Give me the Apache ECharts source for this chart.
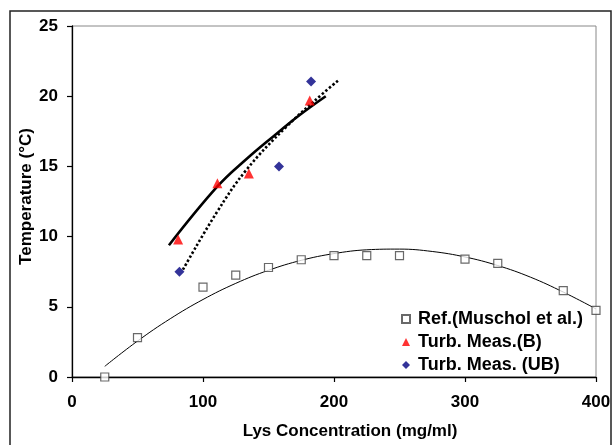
<!DOCTYPE html>
<html>
<head>
<meta charset="utf-8">
<script src="https://cdn.jsdelivr.net/npm/echarts@6/dist/echarts.min.js"></script>
<style>html,body{margin:0;padding:0;background:#fff;}#c{width:615px;height:445px;}</style>
</head>
<body>
<div id="c"></div>
<script>
// Reference data (Muschol et al.)
var refX = [25, 50, 100, 125, 150, 175, 200, 225, 250, 300, 325, 375, 400];
var refY = [0, 2.8, 6.4, 7.25, 7.8, 8.35, 8.65, 8.65, 8.65, 8.4, 8.1, 6.15, 4.75];
// Turbidity measurements (B)
var bX = [81, 111, 135, 181.5];
var bY = [9.8, 13.8, 14.5, 19.7];
// Turbidity measurements (UB)
var ubX = [82, 158, 182.5];
var ubY = [7.5, 15.0, 21.05];
// Trend curves
var refFitX = [25, 50, 75, 100, 125, 150, 175, 200, 225, 250, 275, 300, 325, 350, 375, 400];
var refFitY = [0.76, 2.56, 4.15, 5.52, 6.67, 7.6, 8.31, 8.79, 9.06, 9.11, 8.94, 8.55, 7.94, 7.11, 6.05, 4.85];
var bFitX = [74, 111, 133, 153.4, 173.8, 193.7];
var bFitY = [9.38, 13.57, 15.51, 17.12, 18.66, 20.0];
var ubFitX = [84.7, 110.2, 133.1, 163.7, 191.6, 203];
var ubFitY = [7.65, 11.68, 14.75, 17.83, 20.2, 21.1];
var xTicks = [0, 100, 200, 300, 400];
var yTicks = [0, 5, 10, 15, 20, 25];
var legendNames = ['Ref.(Muschol et al.)', 'Turb. Meas.(B)', 'Turb. Meas. (UB)'];

function pairs(xs, ys) { return xs.map(function (x, i) { return [x, ys[i]]; }); }

var FONT = '"Liberation Sans", Arial, sans-serif';
var chart = echarts.init(document.getElementById('c'), null, { renderer: 'canvas' });
chart.setOption({
  animation: false,
  backgroundColor: '#fff',
  graphic: [{
    type: 'rect', shape: { x: 10, y: 11, width: 601, height: 445 },
    style: { fill: null, stroke: '#222', lineWidth: 1.5 }, z: 100
  }],
  grid: { left: 72, right: 19, top: 26, bottom: 67, show: true, borderColor: '#888', borderWidth: 1 },
  xAxis: {
    type: 'value', min: xTicks[0], max: xTicks[xTicks.length - 1], interval: 100,
    name: 'Lys Concentration (mg/ml)', nameLocation: 'middle', nameGap: 46, nameMoveOverlap: false,
    nameTextStyle: { fontFamily: FONT, fontWeight: 'bold', fontSize: 17, color: '#000', padding: [0, 0, 0, 32] },
    axisLine: { show: true, lineStyle: { color: '#000', width: 1.3 } },
    axisTick: { show: true, inside: false, length: 5, lineStyle: { color: '#000', width: 1.2 } },
    axisLabel: { fontFamily: FONT, fontWeight: 'bold', fontSize: 17, color: '#000', margin: 17 },
    splitLine: { show: false }
  },
  yAxis: {
    type: 'value', min: yTicks[0], max: yTicks[yTicks.length - 1], interval: 5,
    name: 'Temperature (°C)', nameLocation: 'middle', nameGap: 37, nameRotate: 90, nameMoveOverlap: false,
    nameTextStyle: { fontFamily: FONT, fontWeight: 'bold', fontSize: 17, color: '#000', padding: [0, 0, 0, 10] },
    axisLine: { show: true, lineStyle: { color: '#000', width: 1.3 } },
    axisTick: { show: true, inside: false, length: 5, lineStyle: { color: '#000', width: 1.2 } },
    axisLabel: { fontFamily: FONT, fontWeight: 'bold', fontSize: 17, color: '#000', margin: 14 },
    splitLine: { show: false }
  },
  legend: {
    orient: 'vertical', left: 401, top: 310, padding: 0, itemWidth: 8, itemHeight: 8, itemGap: 5,
    data: legendNames,
    textStyle: { fontFamily: FONT, fontWeight: 'bold', fontSize: 18, color: '#000', lineHeight: 18, padding: [0, 0, 0, 3] }
  },
  series: [
    { type: 'line', data: pairs(refFitX, refFitY), smooth: 0.4, showSymbol: false, silent: true,
      lineStyle: { color: '#000', width: 1 }, z: 2 },
    { type: 'line', data: pairs(bFitX, bFitY), smooth: 0.4, showSymbol: false, silent: true,
      lineStyle: { color: '#000', width: 2.6 }, z: 2 },
    { type: 'line', data: pairs(ubFitX, ubFitY), smooth: 0.4, showSymbol: false, silent: true,
      lineStyle: { color: '#000', width: 2.6, type: [2.4, 2.2] }, z: 2 },
    { name: legendNames[0], type: 'scatter', data: pairs(refX, refY), symbol: 'rect', symbolSize: 8,
      itemStyle: { color: '#fff', borderColor: '#444', borderWidth: 1.2 }, z: 5 },
    { name: legendNames[1], type: 'scatter', data: pairs(bX, bY), symbol: 'triangle', symbolSize: 10,
      itemStyle: { color: '#ff0000' }, z: 5 },
    { name: legendNames[2], type: 'scatter', data: pairs(ubX, ubY), symbol: 'diamond', symbolSize: 10,
      itemStyle: { color: '#000080' }, z: 5 }
  ]
});
</script>
</body>
</html>
